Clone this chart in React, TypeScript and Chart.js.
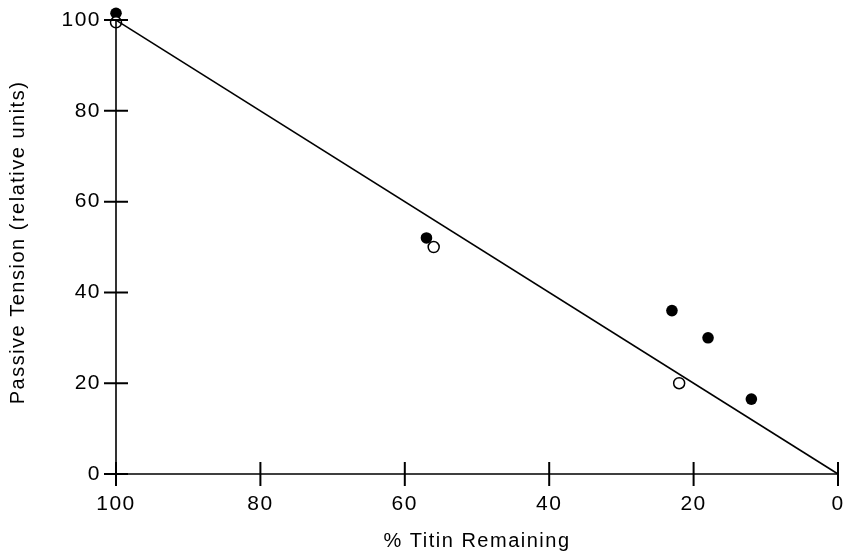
import React, { useEffect, useRef } from "react";
import { Chart, registerables } from "chart.js";

Chart.register(...registerables);

const filledX = [100, 57, 23, 18, 12];
const filledY = [101.5, 52, 36, 30, 16.5];
const openX = [100, 56, 22];
const openY = [99.5, 50, 20];
const fitX = [100, 0];
const fitY = [100, 0];
const xTicks = [100, 80, 60, 40, 20, 0];
const yTicks = [0, 20, 40, 60, 80, 100];

const FONT = "'Liberation Sans', Arial, Helvetica, sans-serif";

const toPts = (xs: number[], ys: number[]) => xs.map((x, i) => ({ x, y: ys[i] }));

const zeroPad = (s: any) => {
  s.paddingTop = 0;
  s.paddingBottom = 0;
  s.paddingLeft = 0;
  s.paddingRight = 0;
};

const crossAxes = {
  id: "crossAxes",
  beforeDraw(chart: any) {
    chart.ctx.letterSpacing = "1.5px";
  },
  afterDatasetsDraw(chart: any) {
    const { ctx } = chart;
    const xs = chart.scales.x;
    const ys = chart.scales.y;
    const x0 = xs.getPixelForValue(100);
    const x1 = xs.getPixelForValue(0);
    const y0 = ys.getPixelForValue(0);
    const y1 = ys.getPixelForValue(100);
    ctx.save();
    ctx.strokeStyle = "#000";
    ctx.lineWidth = 1.6;
    ctx.beginPath();
    ctx.moveTo(x0, y0);
    ctx.lineTo(x1, y0);
    ctx.moveTo(x0, y0);
    ctx.lineTo(x0, y1);
    ctx.stroke();
    ctx.lineWidth = 2;
    const L = 12;
    ctx.beginPath();
    xTicks.forEach((v) => {
      const px = xs.getPixelForValue(v);
      ctx.moveTo(px, y0 - L);
      ctx.lineTo(px, y0 + L);
    });
    yTicks.forEach((v) => {
      const py = ys.getPixelForValue(v);
      ctx.moveTo(x0 - L, py);
      ctx.lineTo(x0 + L, py);
    });
    ctx.stroke();
    ctx.restore();
  },
};

export default function App() {
  const ref = useRef<HTMLCanvasElement | null>(null);
  useEffect(() => {
    if (!ref.current) return;
    const chart = new Chart(ref.current, {
      type: "scatter",
      data: {
        datasets: [
          {
            label: "fit",
            data: toPts(fitX, fitY),
            showLine: true,
            borderColor: "#000",
            borderWidth: 1.6,
            pointRadius: 0,
            clip: false,
          } as any,
          {
            label: "open",
            data: toPts(openX, openY),
            pointRadius: 5.5,
            pointBorderWidth: 1.5,
            pointBackgroundColor: "#fff",
            pointBorderColor: "#000",
            clip: false,
          } as any,
          {
            label: "filled",
            data: toPts(filledX, filledY),
            pointRadius: 5.8,
            pointBorderWidth: 0,
            pointBackgroundColor: "#000",
            pointBorderColor: "#000",
            clip: false,
          } as any,
        ],
      },
      options: {
        responsive: false,
        animation: false,
        devicePixelRatio: 1,
        layout: { padding: { top: 11, right: 12, left: 0, bottom: 0 } },
        plugins: { legend: { display: false }, tooltip: { enabled: false } },
        scales: {
          x: {
            type: "linear",
            reverse: true,
            min: 0,
            max: 100,
            afterBuildTicks: (s: any) => {
              s.ticks = xTicks.map((v) => ({ value: v }));
            },
            afterFit: (s: any) => {
              s.height = 85;
              zeroPad(s);
            },
            grid: { display: false, drawTicks: false },
            border: { display: false },
            ticks: {
              color: "#000",
              font: { family: FONT, size: 21 },
              padding: 18,
              autoSkip: false,
              maxRotation: 0,
            },
            title: {
              display: true,
              text: "% Titin Remaining",
              color: "#000",
              font: { family: FONT, size: 20 },
              padding: { top: 0, bottom: 6 },
            },
          },
          y: {
            type: "linear",
            min: 0,
            max: 102,
            afterBuildTicks: (s: any) => {
              s.ticks = yTicks.map((v) => ({ value: v }));
            },
            afterFit: (s: any) => {
              s.width = 116;
              zeroPad(s);
            },
            grid: { display: false, drawTicks: false },
            border: { display: false },
            ticks: {
              color: "#000",
              font: { family: FONT, size: 21 },
              padding: 15,
              autoSkip: false,
            },
            title: {
              display: true,
              text: "Passive Tension (relative units)",
              color: "#000",
              font: { family: FONT, size: 20 },
              padding: { top: 6, bottom: 0 },
            },
          },
        },
      } as any,
      plugins: [crossAxes],
    });
    return () => chart.destroy();
  }, []);
  return (
    <div style={{ position: "absolute", left: 0, top: 0, width: 850, height: 559, background: "#fff" }}>
      <canvas ref={ref} width={850} height={559} style={{ width: 850, height: 559 }} />
    </div>
  );
}
